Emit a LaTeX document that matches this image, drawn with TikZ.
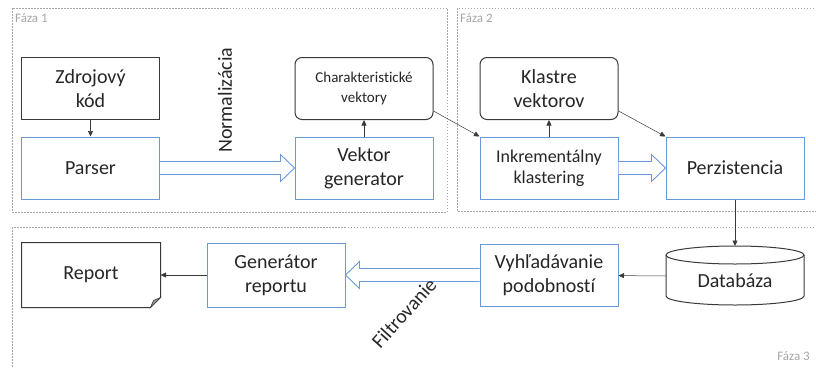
\documentclass[tikz,border=0pt]{standalone}
\usepackage{fontspec}
\setmainfont{Carlito}[Ligatures=NoCommon]
\usepackage{xcolor}
\usepackage{tikz}
\usetikzlibrary{positioning, arrows.meta, calc}
\definecolor{boxBlue}{HTML}{6A98DC}
\definecolor{lineGray}{HTML}{3A3A3A}
\definecolor{txtDark}{HTML}{262626}
\definecolor{phaseGray}{HTML}{A6A6A6}
\definecolor{foldGray}{HTML}{9A9A9A}
\newcommand{\fatArrow}[3]{\draw[fat] ($(#1)+(0,6.5)$) -- ($(#2)+({-14*(#3)},6.5)$) -- ($(#2)+({-14*(#3)},13.5)$) -- (#2) -- ($(#2)+({-14*(#3)},-13.5)$) -- ($(#2)+({-14*(#3)},-6.5)$) -- ($(#1)+(0,-6.5)$);}
\begin{document}
\begin{tikzpicture}[x=1pt, y=1pt,
  box/.style={draw=lineGray, line width=1pt, fill=white, minimum width=138pt, minimum height=62pt, inner sep=2pt, align=center, text=txtDark, font=\fontsize{20}{24}\selectfont},
  blubox/.style={box, draw=boxBlue},
  rbox/.style={box, rounded corners=7pt},
  conn/.style={draw=lineGray, line width=0.5pt, -{Triangle[length=5.5pt, width=5pt]}},
  fat/.style={draw=boxBlue, line width=0.9pt, fill=white, line join=miter},
  phasebox/.style={draw=phaseGray, line width=0.6pt, dash pattern=on 1.5pt off 1.5pt},
  phase/.style={text=phaseGray, inner sep=0pt, font=\fontsize{13}{15}\selectfont},
  lbl/.style={text=txtDark, inner sep=1pt, font=\fontsize{20}{24}\selectfont}]
\clip (0,0) rectangle (816,-367);
% phases
\draw[phasebox] (12,-8) rectangle (447,-212);
\draw[phasebox] (457,-8) rectangle (830,-211);
\draw[phasebox] (12,-227) rectangle (830,-380);
\node[phase, anchor=base west] (f1) at (15,-22) {Fáza 1};
\node[phase, anchor=base west] (f2) at (460,-22) {Fáza 2};
\node[phase, anchor=base east] (f3) at (810,-360) {Fáza 3};
% faza 1
\node[box] (src) at (90.5,-88.5) {Zdrojový\\kód};
\node[blubox] (parser) at (90.5,-168) {Parser};
\node[rbox, font=\fontsize{15}{20}\selectfont] (chv) at (364,-88.5) {Charakteristické\\vektory};
\node[blubox] (vgen) at (364,-168) {Vektor\\generator};
% faza 2
\node[rbox] (klv) at (549,-88.5) {Klastre\\vektorov};
\node[blubox, font=\fontsize{18}{21}\selectfont] (ink) at (549,-168) {Inkrementálny\\klastering};
\node[blubox] (pers) at (735,-168) {Perzistencia};
% faza 3
\node[box, draw=none, fill=none, minimum height=64pt] (rep) at (91,-275) {Report};
\node[blubox, minimum height=64pt] (grep) at (276,-275) {Generátor\\reportu};
\node[blubox] (vyh) at (549,-275) {Vyhľadávanie\\podobností};
\draw[draw=lineGray, line width=1pt] (rep.north west) -- (rep.north east) -- ($(rep.south east)+(0,10)$) -- ($(rep.south east)+(-10,0)$) -- (rep.south west) -- cycle;
\filldraw[fill=foldGray, draw=lineGray, line width=0.6pt] ($(rep.south east)+(-10,0)$) -- ($(rep.south east)+(-7,7)$) -- ($(rep.south east)+(0,10)$) -- cycle;
\coordinate (dbc) at (735,-281);
\draw[draw=lineGray, line width=1pt, fill=white] ($(dbc)+(-69,26)$) -- ($(dbc)+(-69,-15)$) arc[start angle=180, end angle=360, x radius=69, y radius=9] -- ($(dbc)+(69,26)$);
\draw[draw=lineGray, line width=1pt] ($(dbc)+(0,26)$) ellipse[x radius=69, y radius=9];
\node[lbl] (db) at (dbc) {Databáza};
\coordinate (dbtop) at ($(dbc)+(0,35)$);
\coordinate (dbleft) at ($(dbc)+(-69,5)$);
% sipky
\fatArrow{parser.east}{vgen.west}{1}
\fatArrow{ink.east}{pers.west}{1}
\fatArrow{vyh.west}{grep.east}{-1}
\node[lbl, rotate=90] (norm) at (225,-100) {Normalizácia};
\node[lbl, rotate=48] (filt) at (404,-313) {Filtrovanie};
\draw[conn] (src) -- (parser);
\draw[conn] (vgen) -- (chv);
\draw[conn] (ink) -- (klv);
\draw[conn] ($(chv.south east)+(0,9)$) -- (ink.north west);
\draw[conn] ($(klv.south east)+(0,9)$) -- (pers.north west);
\draw[conn] (pers) -- (dbtop);
\draw[conn] (dbleft) -- (vyh);
\draw[conn] (grep) -- (rep);
\end{tikzpicture}
\end{document}
